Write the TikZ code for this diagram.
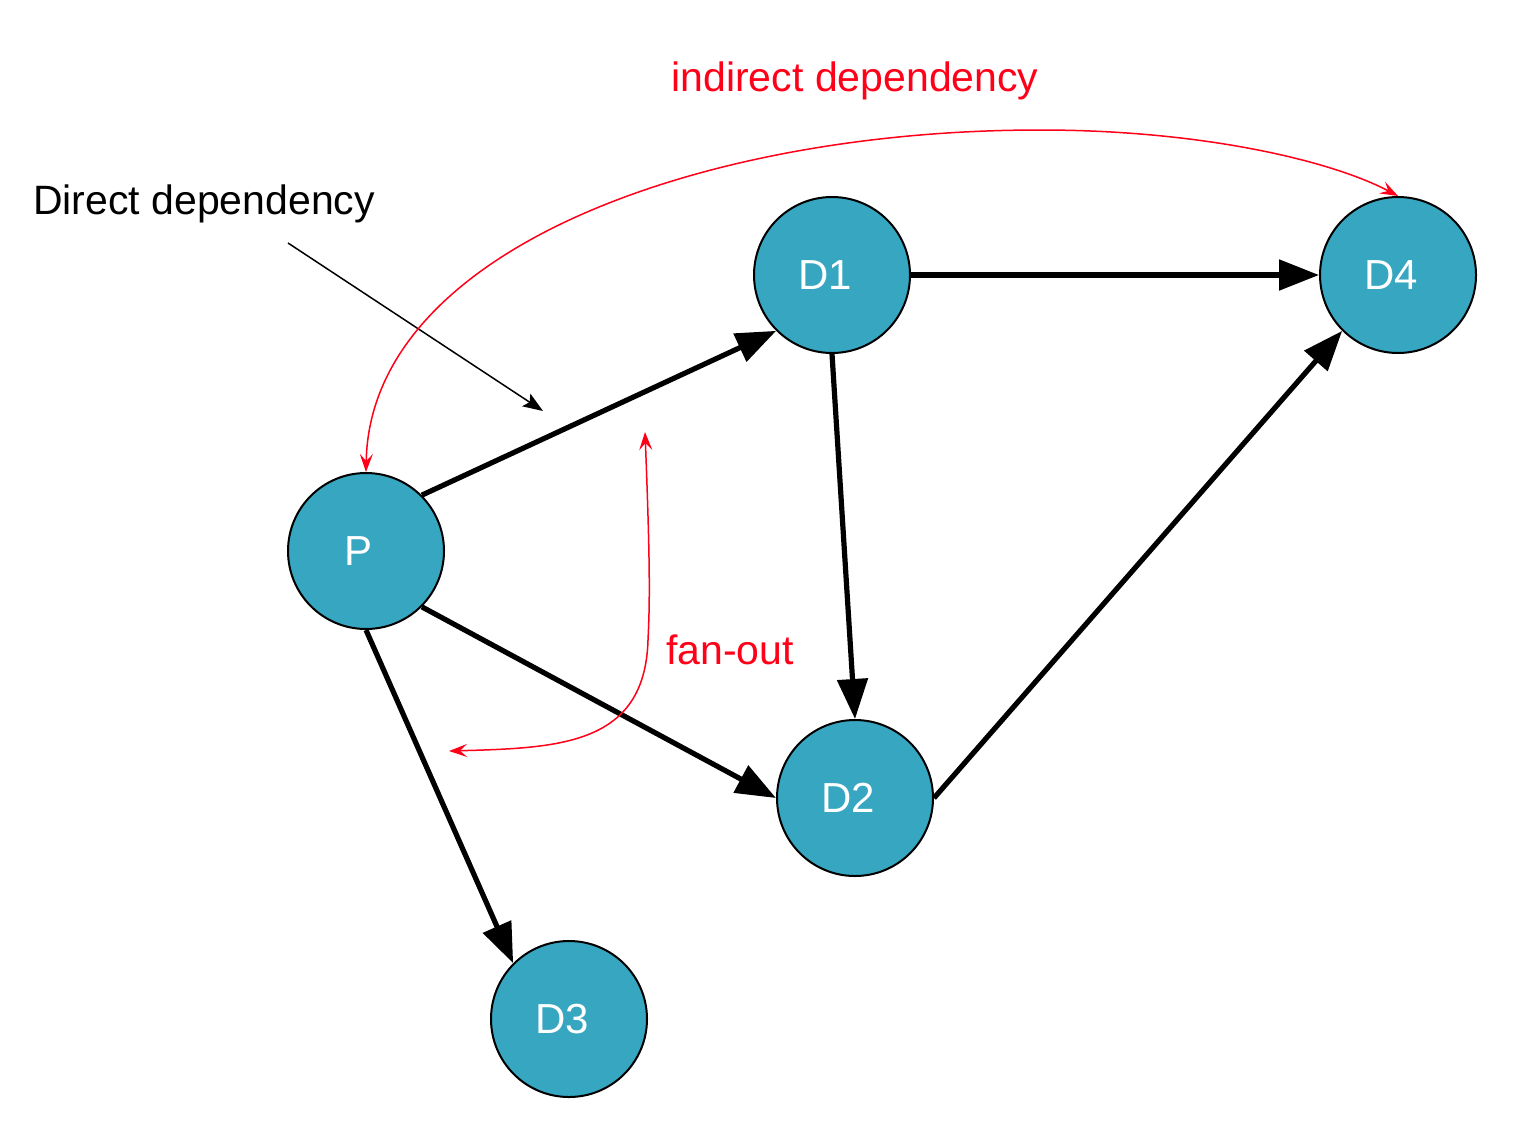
\documentclass[tikz,border=0pt]{standalone}
\usepackage{fontspec}
\setmainfont{Liberation Sans}
\usetikzlibrary{arrows.meta}

\definecolor{depblue}{RGB}{54,166,193}
\definecolor{depred}{RGB}{255,0,24}

\tikzset{every picture/.style={line width=0.75pt}}
\tikzset{
  pkg/.style={circle, draw=black, line width=1pt, fill=depblue, minimum size=78pt, inner sep=0pt, text=white, font=\fontsize{21}{24}\selectfont},
  dep/.style={line width=2.6pt, -{Triangle[length=20pt,width=15pt]}},
  note/.style={font=\fontsize{20.5}{24}\selectfont, inner sep=0pt},
  redline/.style={draw=depred, line width=0.75pt},
}

\begin{document}
\begin{tikzpicture}[x=0.5pt,y=0.5pt,yscale=-1,xscale=1]
    \useasboundingbox (0,0) rectangle (1534,1140);

    % Packages
    \node [pkg] (p)  at (366,551)  {\hspace*{-7pt}P};
    \node [pkg] (d1) at (832,275)  {\hspace*{-7pt}D1};
    \node [pkg] (d4) at (1398,275) {\hspace*{-7pt}D4};
    \node [pkg] (d2) at (855,798)  {\hspace*{-7pt}D2};
    \node [pkg] (d3) at (569,1019) {\hspace*{-7pt}D3};

    %Straight Lines (direct dependencies)
    \draw [dep] (p.north east) -- (d1.south west);
    \draw [dep] (p.south east) -- (d2.west);
    \draw [dep] (p.south) -- (d3.north west);
    \draw [dep] (d1.east) -- (d4.west);
    \draw [dep] (d1.south) -- (d2.north);
    \draw [dep] (d2.east) -- (d4.south west);

    % Text Node
    \node [note, text=depred] (indirect) at (855,81) {indirect dependency};
    % Text Node
    \node [note] (direct) at (204,204) {Direct dependency};
    % Text Node
    \node [note, text=depred] (fanout) at (730,650) {fan-out};

    %Straight Lines (pointer)
    \coordinate (ptrStart) at (288,243);
    \coordinate (ptrEnd) at (543,411);
    \draw [-{Stealth[length=10pt,width=7.5pt,inset=2pt]}] (ptrStart) -- (ptrEnd);

    %Curve Lines (indirect dependency)
    \coordinate (arcTop) at (1040,130);
    \draw [redline, {Stealth[length=9pt,width=6.5pt,inset=3.5pt]}-{Stealth[length=9pt,width=6.5pt,inset=3.5pt]}]
      (p.north) .. controls (370,250) and (700,130) .. (arcTop)
      .. controls (1200,130) and (1330,160) .. (d4.north);

    %Curve Lines (fan-out)
    \coordinate (fanTop) at (645,432);
    \coordinate (fanMid) at (648,640);
    \coordinate (fanEnd) at (449,751);
    \draw [redline, {Stealth[length=9pt,width=6.5pt,inset=3.5pt]}-{Stealth[length=9pt,width=6.5pt,inset=3.5pt]}]
      (fanTop) .. controls (650,560) and (650,600) .. (fanMid)
      .. controls (645,745) and (560,748) .. (fanEnd);

\end{tikzpicture}
\end{document}
